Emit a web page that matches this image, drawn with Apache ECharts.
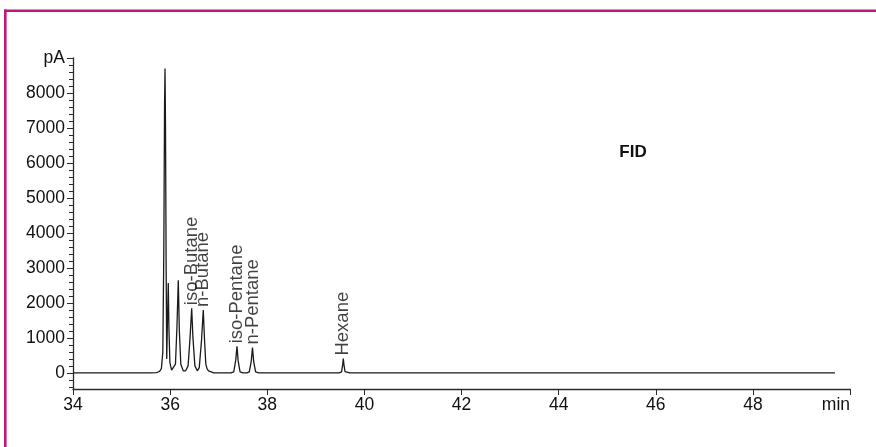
<!DOCTYPE html>
<html>
<head>
<meta charset="utf-8">
<script src="https://cdn.jsdelivr.net/npm/echarts@6/dist/echarts.min.js"></script>
<style>
  html, body { margin: 0; padding: 0; background: #fff; }
  #chart { width: 876px; height: 447px; }
</style>
</head>
<body>
<div id="chart"></div>
<script>
// Retention time axis (min) and signal (pA)
const xTicks = [34, 36, 38, 40, 42, 44, 46, 48, 50];
const yTicks = [0, 1000, 2000, 3000, 4000, 5000, 6000, 7000, 8000, 9000];
const yMinorTicks = [-400, -200, 200, 400, 600, 800, 1200, 1400, 1600, 1800, 2200, 2400, 2600, 2800,
  3200, 3400, 3600, 3800, 4200, 4400, 4600, 4800, 5200, 5400, 5600, 5800, 6200, 6400, 6600, 6800,
  7200, 7400, 7600, 7800, 8200, 8400, 8600, 8800];

// Chromatogram trace, points: [time (min), signal (pA)]
const traceTimes = [34.0, 35.6, 35.72, 35.78, 35.82, 35.85, 35.87, 35.885, 35.895, 35.905, 35.918, 35.93,
  35.945, 35.962, 35.975, 35.995, 36.03, 36.07, 36.11, 36.14, 36.168, 36.19, 36.22, 36.27,
  36.32, 36.37, 36.41, 36.444, 36.47, 36.51, 36.56, 36.60, 36.645, 36.683, 36.71, 36.735,
  36.76, 36.79, 36.83, 36.9, 37.25, 37.31, 37.35, 37.377, 37.40, 37.44, 37.5, 37.58,
  37.63, 37.67, 37.696, 37.72, 37.76, 37.83, 39.48, 39.53, 39.555, 39.566, 39.578, 39.60,
  39.63, 39.7, 49.69];
const traceValues = [0, 0, 10, 40, 120, 600, 3500, 7600, 8700, 7000, 3000, 400,
  1500, 2570, 1300, 300, 80, 60, 250, 1300, 2650, 1200, 250, 60,
  60, 200, 1000, 1850, 1000, 200, 60, 150, 900, 1800, 900, 250,
  120, 60, 10, 0, 0, 30, 350, 760, 350, 30, 0, 0,
  30, 330, 725, 330, 30, 0, 0, 30, 250, 410, 250, 40,
  10, 0, 0];

// Labelled peaks
const peakNames = ['iso-Butane', 'n-Butane', 'iso-Pentane', 'n-Pentane', 'Hexane'];
const peakTimes = [36.444, 36.683, 37.377, 37.696, 39.566];
const peakHeights = [1850, 1800, 760, 725, 410];

const detectorName = 'FID';
const yUnit = 'pA';
const xUnit = 'min';

const FONT = "'Liberation Sans', Arial, sans-serif";
const AXIS_COLOR = '#2b2b2b';

const chart = echarts.init(document.getElementById('chart'), null, { renderer: 'canvas' });

const traceData = traceTimes.map((t, i) => [t, traceValues[i]]);
const peakData = peakTimes.map((t, i) => ({ value: [t, peakHeights[i]], name: peakNames[i] }));

chart.setOption({
  animation: false,
  backgroundColor: '#fff',
  grid: { left: 73, right: 26, top: 58, bottom: 58, containLabel: false },
  xAxis: {
    type: 'value',
    min: 34,
    max: 50,
    interval: 2,
    axisLine: { onZero: false, lineStyle: { color: AXIS_COLOR, width: 1.3 } },
    axisTick: { show: true, inside: false, length: 6, lineStyle: { color: AXIS_COLOR, width: 1 } },
    axisLabel: {
      color: '#111', fontFamily: FONT, fontSize: 17.5, margin: 7,
      formatter: v => (v === 50 ? xUnit : String(v)),
      alignMaxLabel: 'right'
    },
    splitLine: { show: false }
  },
  yAxis: [
    {
      type: 'value',
      min: -460,
      max: 9000,
      axisLine: { show: true, onZero: false, lineStyle: { color: AXIS_COLOR, width: 1.3 } },
      axisTick: { show: true, length: 6, customValues: yTicks, lineStyle: { color: AXIS_COLOR, width: 1 } },
      axisLabel: {
        color: '#111', fontFamily: FONT, fontSize: 17.5, margin: 8,
        customValues: yTicks,
        formatter: v => (v === 9000 ? yUnit : String(v))
      },
      splitLine: { show: false }
    },
    {
      type: 'value',
      min: -460,
      max: 9000,
      position: 'left',
      axisLine: { show: false, onZero: false },
      axisTick: { show: true, length: 4, customValues: yMinorTicks, lineStyle: { color: AXIS_COLOR, width: 1 } },
      axisLabel: { show: false },
      splitLine: { show: false }
    }
  ],
  series: [
    {
      type: 'line',
      data: traceData,
      yAxisIndex: 0,
      showSymbol: false,
      symbol: 'none',
      smooth: false,
      lineStyle: { color: '#1a1a1a', width: 1.3 },
      z: 3
    },
    {
      type: 'scatter',
      data: peakData,
      yAxisIndex: 0,
      symbolSize: 0,
      label: {
        show: true,
        position: 'top',
        distance: 3,
        rotate: 90,
        align: 'left',
        verticalAlign: 'middle',
        formatter: p => p.name,
        color: '#111',
        fontFamily: FONT,
        fontSize: 18.5
      },
      z: 4
    }
  ],
  graphic: [
    {
      type: 'text',
      x: 633, y: 152,
      style: { text: detectorName, font: "bold 17px " + FONT, fill: '#111', align: 'center', verticalAlign: 'middle' }
    },
    {
      type: 'line',
      shape: { x1: 4, y1: 10.7, x2: 876, y2: 10.7 },
      style: { stroke: '#C2177E', lineWidth: 2.6 }
    },
    {
      type: 'line',
      shape: { x1: 5.3, y1: 9.5, x2: 5.3, y2: 447 },
      style: { stroke: '#C2177E', lineWidth: 2.6 }
    }
  ]
});
</script>
</body>
</html>
